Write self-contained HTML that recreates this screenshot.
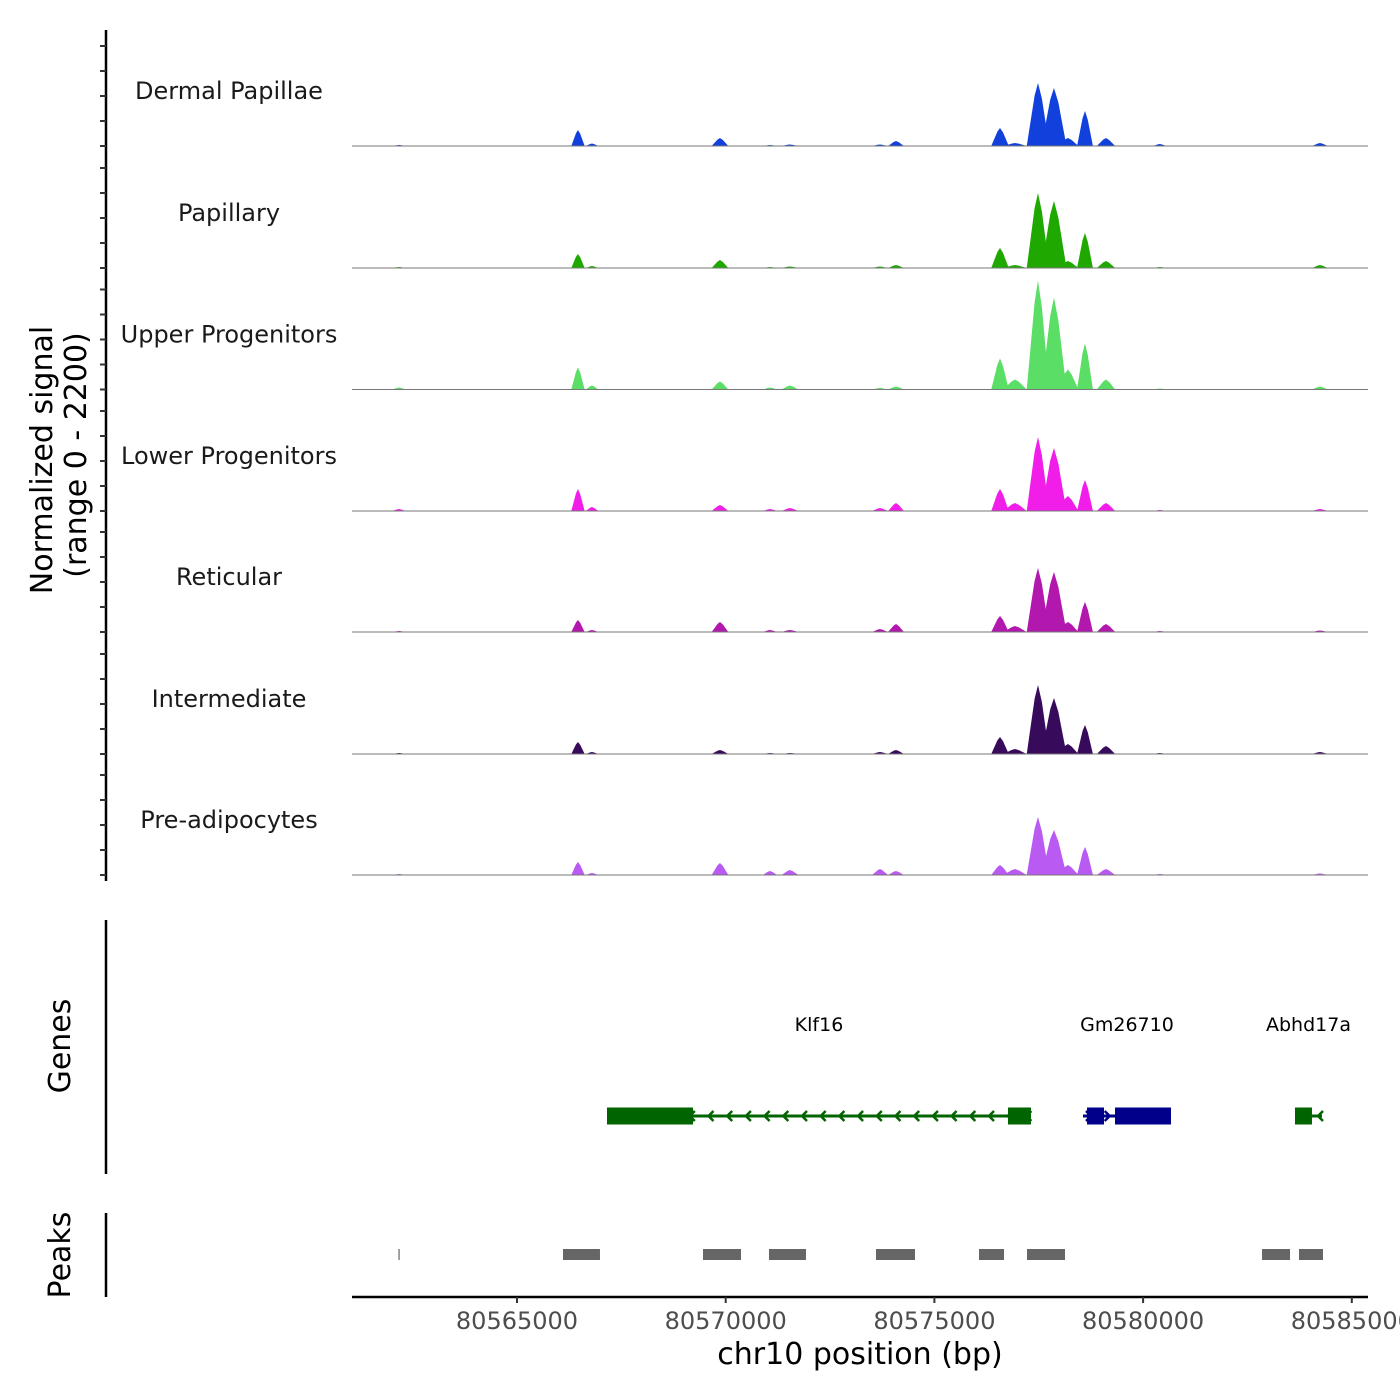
<!DOCTYPE html>
<html><head><meta charset="utf-8"><style>
html,body{margin:0;padding:0;background:#fff}
svg{display:block;font-family:"DejaVu Sans","Liberation Sans",sans-serif}
</style></head><body>
<svg id="chart" width="1400" height="1400" viewBox="0 0 1400 1400">
<g id="tracks"></g>
<g id="genes"></g>
<g id="peaks"></g>
<g id="axes"></g>
</svg>
<script>
// ---- data ----
const trackNames = ["Dermal Papillae","Papillary","Upper Progenitors","Lower Progenitors","Reticular","Intermediate","Pre-adipocytes"];
const trackColors = ["#1240dc","#1fa800","#5ade66","#f01ee8","#b218ae","#380a5c","#b95af2"];
const peakCenters = [80562173,80566461,80566797,80569863,80571061,80571540,80573697,80574080,80576572,80576931,80577482,80577865,80578200,80578608,80579111,80580400,80584238];
const peakHalfWidths = [160,160,150,200,170,200,190,190,210,280,270,300,250,190,220,160,190];
const sigDP  = [20,320,50,160,20,30,30,100,360,60,1260,1160,160,700,160,40,60];
const sigPap = [20,280,40,160,20,30,30,60,400,60,1500,1340,140,700,140,20,60];
const sigUp  = [40,440,80,160,40,80,30,60,620,200,2180,1840,400,920,200,20,60];
const sigLow = [40,440,80,120,40,60,60,160,440,160,1480,1260,300,620,160,20,40];
const sigRet = [20,240,40,200,40,40,60,160,320,120,1280,1200,200,600,160,20,30];
const sigInt = [20,240,40,80,20,20,40,80,340,100,1380,1120,200,580,160,20,40];
const sigPre = [20,260,40,240,80,100,120,80,200,120,1160,900,200,560,120,20,30];
const trackSignals = [sigDP,sigPap,sigUp,sigLow,sigRet,sigInt,sigPre];
const geneNames = ["Klf16","Gm26710","Abhd17a"];
const geneStarts = [80567156,80578560,80583639];
const geneEnds = [80577314,80580668,80584286];
const geneStrands = [-1,1,-1];
const geneColors = ["#006400","#00008b","#006400"];
const exonGene = [0,0,1,1,2];
const exonStarts = [80567156,80576763,80578656,80579327,80583639];
const exonEnds = [80569217,80577314,80579063,80580668,80584046];
const peakStarts = [80562160,80566102,80569456,80571038,80573601,80576069,80577219,80582849,80583735];
const peakEnds = [80562186,80566988,80570367,80571924,80574535,80576668,80578129,80583520,80584310];
const xTicks = [80565000,80570000,80575000,80580000,80585000];
const yTickVals = [0,500,1000,1500,2000];

// ---- scales ----
const X0=352,X1=1368,BP0=80561047,BPPX=5000/208.7;
function xs(bp){return X0+(bp-BP0)/BPPX;}
const baselines=[146,268,389.5,511,632,754,875];
function ys(v,i){return baselines[i]-v*110/2200;}
const NS="http://www.w3.org/2000/svg";
function mk(tag,attrs,parent){const e=document.createElementNS(NS,tag);for(const k in attrs)e.setAttribute(k,attrs[k]);parent.appendChild(e);return e;}

const tg=document.getElementById('tracks');
trackNames.forEach((name,i)=>{
  const g=mk('g',{},tg);
  
  
  const lab=mk('text',{x:229,y:baselines[i]-47,'text-anchor':'middle','font-size':24,fill:'#1a1a1a'},g);
  lab.textContent=name;
  
  
  const sig=trackSignals[i];
  peakCenters.forEach((c,j)=>{
    const h=peakHalfWidths[j];
    const pts=[[xs(c-h),baselines[i]],[xs(c-h*0.3),ys(sig[j]*0.8,i)],[xs(c),ys(sig[j],i)],[xs(c+h*0.35),ys(sig[j]*0.75,i)],[xs(c+h),baselines[i]]];
    const p=mk('polygon',{points:pts.map(q=>q.join(',')).join(' '),fill:trackColors[i]},g);
    
    
  });
  const bl=mk('line',{x1:X0,x2:X1,y1:baselines[i],y2:baselines[i],stroke:'#777','stroke-width':1},g);
  
  
});

// genes
const gg=document.getElementById('genes');
const GY=1116;
geneNames.forEach((n,i)=>{
  const x1=xs(geneStarts[i]),x2=xs(geneEnds[i]);
  const l=mk('line',{x1:x1,x2:x2,y1:GY,y2:GY,stroke:geneColors[i],'stroke-width':3},gg);
  
  
  const arrowXs=[];
  if(x2-x1>60){for(let x=x1+8;x<x2-4;x+=18.7)arrowXs.push(x);}
  else arrowXs.push(geneStrands[i]<0?x2-4:x1+4);
  arrowXs.forEach(x=>{
    const d=geneStrands[i]<0?`M${x+5},${GY-5} L${x},${GY} L${x+5},${GY+5}`:`M${x-5},${GY-5} L${x},${GY} L${x-5},${GY+5}`;
    const a=mk('path',{d:d,stroke:geneColors[i],'stroke-width':2.5,fill:'none'},gg);
    
    
  });
  const t=mk('text',{x:(x1+x2)/2,y:1031,'text-anchor':'middle','font-size':19,fill:'#000'},gg);
  t.textContent=n;
  
  
});
exonStarts.forEach((s,k)=>{
  const r=mk('rect',{x:xs(s),y:GY-8.5,width:xs(exonEnds[k])-xs(s),height:17,fill:geneColors[exonGene[k]]},gg);
  
  
});

// peaks
const pg=document.getElementById('peaks');
peakStarts.forEach((s,k)=>{
  const w=Math.max(1.2,xs(peakEnds[k])-xs(s));
  const r=mk('rect',{x:xs(s),y:1249,width:w,height:11,fill:'#666'},pg);
  
  
});

// axes
const ag=document.getElementById('axes');
function line(a,name){const e=mk('line',Object.assign({stroke:'#000','stroke-width':2.5},a),ag);return e;}
line({x1:106,x2:106,y1:30,y2:881},'y-axis-line');
baselines.forEach((b,i)=>{yTickVals.forEach(v=>{line({x1:100,x2:106,y1:ys(v,i),y2:ys(v,i),'stroke-width':2,stroke:'#333'},'y-tick');});});
line({x1:106,x2:106,y1:920,y2:1174},'genes-axis-line');
line({x1:106,x2:106,y1:1213,y2:1297},'peaks-axis-line');
line({x1:352,x2:1368,y1:1297,y2:1297},'x-axis-line');
xTicks.forEach(t=>{
  const x=xs(t);
  line({x1:x,x2:x,y1:1297,y2:1303,'stroke-width':2,stroke:'#333'},'x-tick');
  const tx=mk('text',{x:x,y:1329,'text-anchor':'middle','font-size':24,fill:'#4d4d4d'},ag);
  tx.textContent=t;
  
  
});
function txt(s,a,name){const e=mk('text',a,ag);e.textContent=s;return e;}
txt('chr10 position (bp)',{x:860,y:1364,'text-anchor':'middle','font-size':30,fill:'#000'},'x-axis-title');
txt('Normalized signal',{x:0,y:0,'text-anchor':'middle','font-size':30,fill:'#000',transform:'translate(52,460) rotate(-90)'},'y-axis-title');
txt('(range 0 - 2200)',{x:0,y:0,'text-anchor':'middle','font-size':30,fill:'#000',transform:'translate(86,455) rotate(-90)'},'y-axis-subtitle');
txt('Genes',{x:0,y:0,'text-anchor':'middle','font-size':30,fill:'#000',transform:'translate(70,1046) rotate(-90)'},'genes-axis-title');
txt('Peaks',{x:0,y:0,'text-anchor':'middle','font-size':30,fill:'#000',transform:'translate(70,1255) rotate(-90)'},'peaks-axis-title');
</script>
</body></html>
